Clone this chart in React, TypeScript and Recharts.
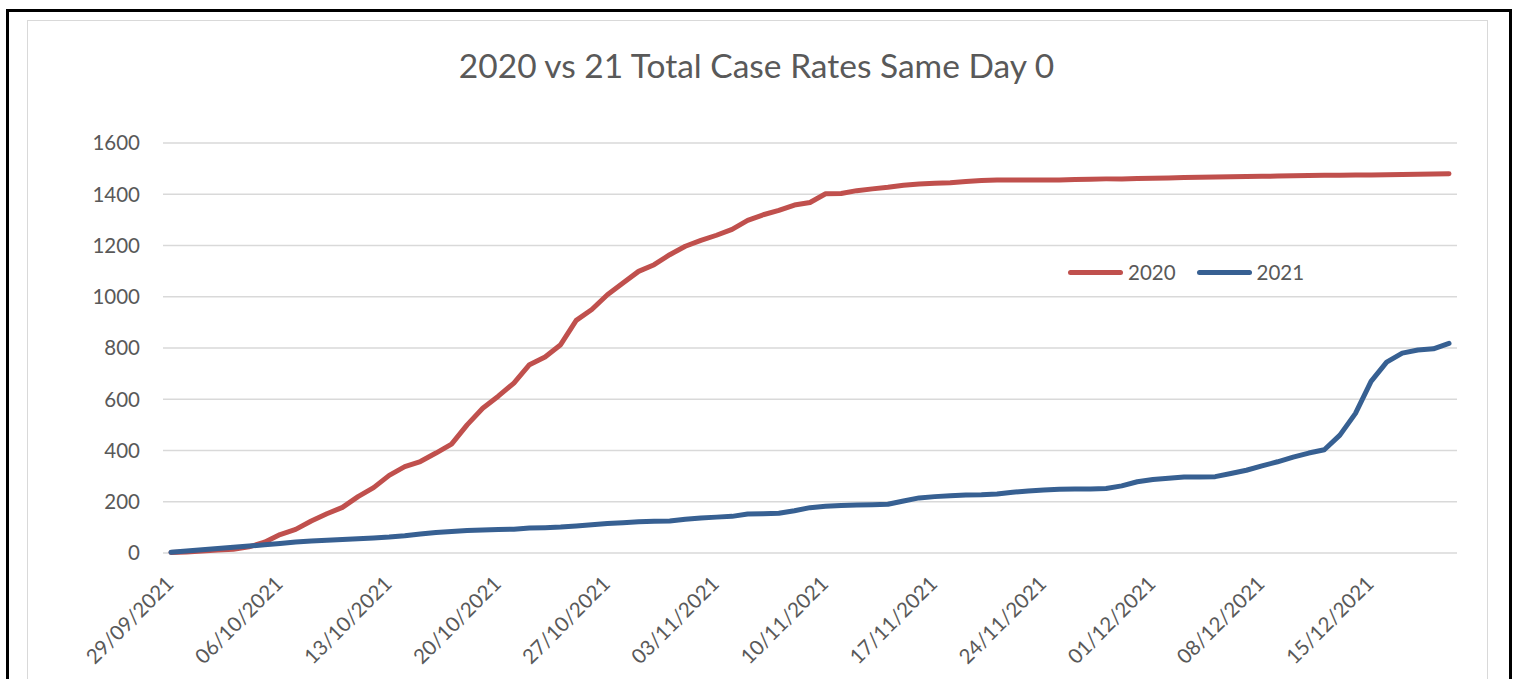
import React from "react";
import {
  LineChart,
  Line,
  XAxis,
  YAxis,
  CartesianGrid,
  Legend,
} from "recharts";

const dates = [
  "29/09/2021", "30/09/2021",
  "01/10/2021", "02/10/2021", "03/10/2021", "04/10/2021", "05/10/2021", "06/10/2021", "07/10/2021",
  "08/10/2021", "09/10/2021", "10/10/2021", "11/10/2021", "12/10/2021", "13/10/2021", "14/10/2021",
  "15/10/2021", "16/10/2021", "17/10/2021", "18/10/2021", "19/10/2021", "20/10/2021", "21/10/2021",
  "22/10/2021", "23/10/2021", "24/10/2021", "25/10/2021", "26/10/2021", "27/10/2021", "28/10/2021",
  "29/10/2021", "30/10/2021", "31/10/2021",
  "01/11/2021", "02/11/2021", "03/11/2021", "04/11/2021", "05/11/2021", "06/11/2021", "07/11/2021",
  "08/11/2021", "09/11/2021", "10/11/2021", "11/11/2021", "12/11/2021", "13/11/2021", "14/11/2021",
  "15/11/2021", "16/11/2021", "17/11/2021", "18/11/2021", "19/11/2021", "20/11/2021", "21/11/2021",
  "22/11/2021", "23/11/2021", "24/11/2021", "25/11/2021", "26/11/2021", "27/11/2021", "28/11/2021",
  "29/11/2021", "30/11/2021",
  "01/12/2021", "02/12/2021", "03/12/2021", "04/12/2021", "05/12/2021", "06/12/2021", "07/12/2021",
  "08/12/2021", "09/12/2021", "10/12/2021", "11/12/2021", "12/12/2021", "13/12/2021", "14/12/2021",
  "15/12/2021", "16/12/2021", "17/12/2021", "18/12/2021", "19/12/2021", "20/12/2021",
];

const rates2020 = [
  2, 4, 8, 12, 15, 24, 42, 72, 92, 125,
  153, 178, 220, 255, 303, 337, 357, 390, 425, 500,
  565, 612, 663, 735, 765, 813, 908, 950, 1008, 1054,
  1099, 1125, 1164, 1197, 1220, 1240, 1263, 1298, 1320, 1337,
  1358, 1368, 1402, 1403, 1414, 1421, 1427, 1435, 1440, 1443,
  1445, 1450, 1454, 1456, 1456, 1456, 1456, 1456, 1458, 1459,
  1460, 1460, 1461, 1462, 1463, 1465, 1466, 1467, 1468, 1469,
  1470, 1471, 1472, 1473, 1474, 1474, 1475, 1475, 1476, 1477,
  1478, 1479, 1480,
];

const rates2021 = [
  3, 8, 13, 18, 22, 27, 32, 37, 43, 47,
  50, 53, 56, 59, 62, 67, 74, 80, 84, 88,
  90, 92, 93, 98, 99, 101, 105, 110, 115, 118,
  122, 124, 125, 132, 137, 140, 143, 152, 153, 155,
  165, 177, 182, 185, 187, 188, 190, 203, 215, 220,
  223, 226, 227, 230, 237, 242, 246, 249, 250, 250,
  252, 262, 278, 287, 292, 297, 297, 298, 310, 323,
  340, 356, 374, 390, 403, 460, 545, 670, 745, 780,
  792, 797, 818,
];

const yTicks = [0, 200, 400, 600, 800, 1000, 1200, 1400, 1600];

const data = dates.map((d, i) => ({ date: d, y2020: rates2020[i], y2021: rates2021[i] }));

const FONT = "Lato, 'Open Sans', sans-serif";
const TEXT = "#595959";
const RED = "#C0504D";
const BLUE = "#376092";

const DateTick = (props: any) => {
  const { x, y, payload } = props;
  return (
    <g transform={`translate(${x + 4},${y + 32})`}>
      <text
        textAnchor="end"
        transform="rotate(-45)"
        fill={TEXT}
        fontSize={20.5}
        fontFamily={FONT}
      >
        {payload.value}
      </text>
    </g>
  );
};

const LegendBox = () => (
  <div style={{ display: "flex", alignItems: "center", fontFamily: FONT, fontSize: 20.5, color: TEXT }}>
    {[
      { name: "2020", color: RED },
      { name: "2021", color: BLUE },
    ].map((it, i) => (
      <div key={it.name} style={{ display: "flex", alignItems: "center", marginLeft: i ? 21 : 0 }}>
        <span style={{ width: 55, height: 5, borderRadius: 3, background: it.color, marginRight: 5 }} />
        <span>{it.name}</span>
      </div>
    ))}
  </div>
);

export default function App() {
  return (
    <div style={{ position: "absolute", left: 0, top: 0, width: 1517, height: 679, overflow: "hidden", background: "#fff" }}>
      <div style={{ position: "absolute", left: 6, top: 9, width: 1500, height: 700, border: "3px solid #000" }} />
      <div style={{ position: "absolute", left: 27, top: 20, width: 1459, height: 700, border: "1.5px solid #d9d9d9" }} />
      <div
        style={{
          position: "absolute",
          left: 0,
          width: 1513,
          top: 45,
          textAlign: "center",
          fontFamily: FONT,
          fontSize: 33.5,
          color: TEXT,
        }}
      >
        2020 vs 21 Total Case Rates Same Day 0
      </div>
      <div style={{ position: "absolute", left: 0, top: 0 }}>
        <LineChart width={1517} height={679} data={data} margin={{ top: 143, right: 60, bottom: 0, left: 0 }}>
          <CartesianGrid vertical={false} stroke="#d9d9d9" strokeWidth={1.5} />
          <XAxis
            dataKey="date"
            interval={6}
            axisLine={false}
            tickLine={false}
            tickSize={0}
            tickMargin={0}
            height={126}
            padding={{ left: 8, right: 8 }}
            tick={<DateTick />}
          />
          <YAxis
            width={163}
            domain={[0, 1600]}
            ticks={yTicks}
            axisLine={false}
            tickLine={false}
            tickSize={0}
            tickMargin={23}
            tick={{ fill: TEXT, fontSize: 20.5, fontFamily: FONT }}
          />
          <Legend
            content={<LegendBox />}
            wrapperStyle={{ left: 1068, top: 260, width: "auto" }}
            verticalAlign="middle"
          />
          <Line
            dataKey="y2020"
            name="2020"
            stroke={RED}
            strokeWidth={5}
            dot={false}
            strokeLinejoin="round"
            strokeLinecap="round"
            isAnimationActive={false}
          />
          <Line
            dataKey="y2021"
            name="2021"
            stroke={BLUE}
            strokeWidth={5}
            dot={false}
            strokeLinejoin="round"
            strokeLinecap="round"
            isAnimationActive={false}
          />
        </LineChart>
      </div>
    </div>
  );
}
